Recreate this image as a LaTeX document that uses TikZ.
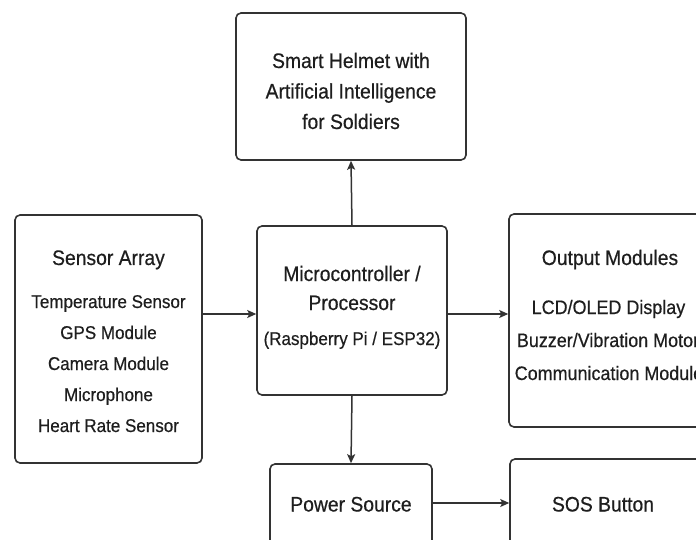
\documentclass[tikz,border=0pt]{standalone}
\usepackage{fontspec}
\setmainfont{Liberation Sans}[FakeStretch=0.92,FakeBold=0.5]
\usetikzlibrary{arrows.meta}
\definecolor{boxgray}{HTML}{333333}
\definecolor{txtgray}{HTML}{1E1E1E}
\begin{document}
\begin{tikzpicture}[x=1pt,y=-1pt,
  box/.style={draw=boxgray, line width=1.6pt, rounded corners=5pt, fill=white, inner sep=0pt},
  ttl/.style={anchor=base, text=txtgray, inner sep=0pt, font=\fontsize{21}{25}\selectfont},
  itm/.style={anchor=base, text=txtgray, inner sep=0pt, font=\fontsize{18.5}{22}\selectfont},
  itmw/.style={itm, font=\fontsize{19.5}{23}\selectfont},
  arr/.style={draw=boxgray, line width=1.5pt, -{Stealth[length=9pt,width=8pt,inset=2pt]}}]
\useasboundingbox (0,0) rectangle (696,540);
\clip (0,0) rectangle (696,540);
\fill[white] (0,0) rectangle (696,540);
% boxes
\node[box, minimum width=230pt, minimum height=147pt] (top) at (351,86.5) {};
\node[box, minimum width=187pt, minimum height=248pt] (sensor) at (108.5,339) {};
\node[box, minimum width=190pt, minimum height=169pt] (micro) at (352,310.5) {};
\node[box, minimum width=202pt, minimum height=213pt] (output) at (610,320.5) {};
\node[box, minimum width=162pt, minimum height=84pt] (power) at (351,506) {};
\node[box, minimum width=202pt, minimum height=90pt] (sos) at (611,504) {};
% texts
\node[ttl] (top1) at (351,68) {Smart Helmet with};
\node[ttl] (top2) at (351,98.5) {Artificial Intelligence};
\node[ttl] (top3) at (351,129) {for Soldiers};
\node[ttl] (sen0) at (108.5,265) {Sensor Array};
\node[itm] (sen1) at (108.5,308) {Temperature Sensor};
\node[itm] (sen2) at (108.5,339) {GPS Module};
\node[itm] (sen3) at (108.5,370) {Camera Module};
\node[itm] (sen4) at (108.5,401) {Microphone};
\node[itm] (sen5) at (108.5,432) {Heart Rate Sensor};
\node[ttl] (mic1) at (352,281) {Microcontroller /};
\node[ttl] (mic2) at (352,310) {Processor};
\node[itm] (mic3) at (352,345) {(Raspberry Pi / ESP32)};
\node[ttl] (out0) at (610,265) {Output Modules};
\node[itmw] (out1) at (608.5,314) {LCD/OLED Display};
\node[itmw] (out2) at (608,347) {Buzzer/Vibration Motor};
\node[itmw] (out3) at (609,380) {Communication Module};
\node[ttl] (pow1) at (351,511.5) {Power Source};
\node[ttl] (sos1) at (603,511.5) {SOS Button};
% connectors
\draw[arr] (micro.north) -- (top.south);
\draw[arr] (sensor.east |- 0,314) -- (micro.west |- 0,314);
\draw[arr] (micro.east |- 0,314) -- (output.west |- 0,314);
\draw[arr] (micro.south) -- (power.north);
\draw[arr] (power.east |- 0,503) -- (sos.west |- 0,503);
\end{tikzpicture}
\end{document}
